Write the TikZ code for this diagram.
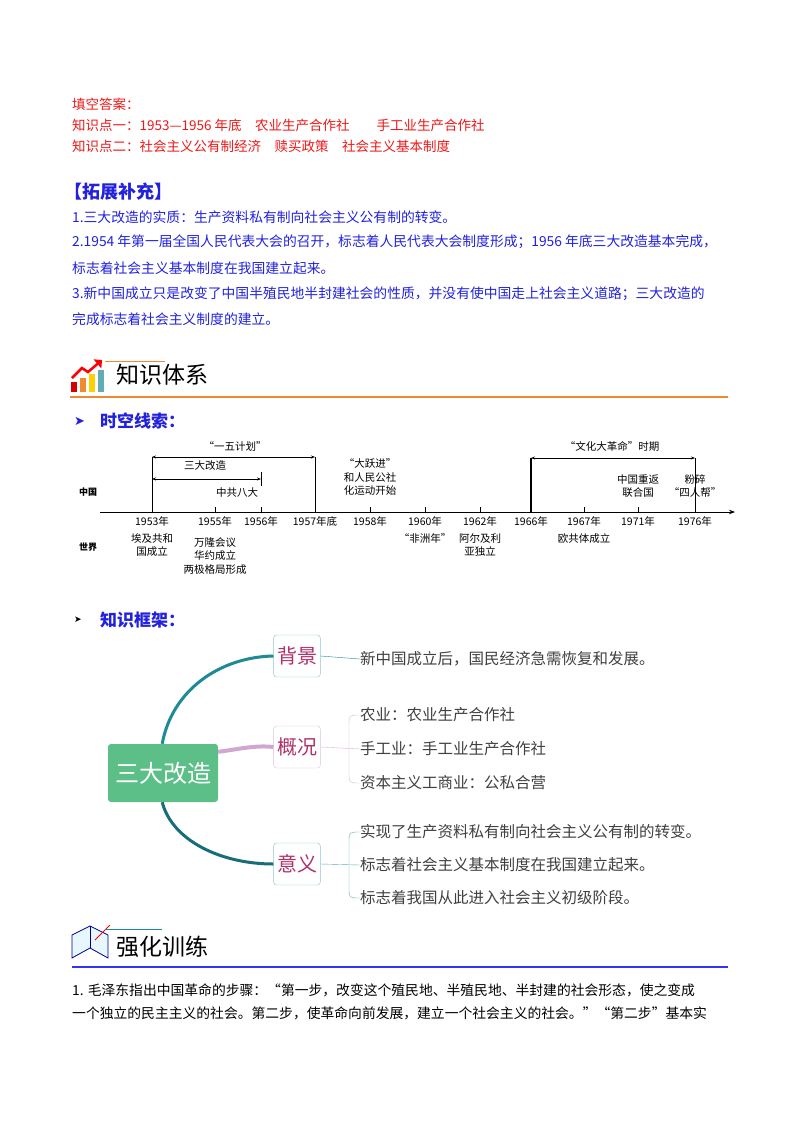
\documentclass[tikz,border=0pt]{standalone}
\usepackage{fontspec}
\setmainfont{Noto Sans CJK SC}
\newfontfamily\djv{DejaVu Sans}
\usetikzlibrary{arrows.meta}
\definecolor{red1}{HTML}{F01818}
\definecolor{blue1}{HTML}{2222DD}
\definecolor{teal1}{HTML}{1E8A96}
\definecolor{green1}{HTML}{5CBF87}
\definecolor{maroon1}{HTML}{B0306A}
\definecolor{orange1}{HTML}{F08A30}
\definecolor{gray1}{HTML}{404040}
\tikzset{
 rt/.style={anchor=west,inner sep=0,text=red1,font=\fontsize{13.5}{15}\selectfont},
 bt/.style={anchor=west,inner sep=0,text=blue1,font=\fontsize{13.8}{15}\selectfont},
 tl/.style={inner sep=0,font=\fontsize{10.5}{13.5}\selectfont,align=center},
 mt/.style={anchor=west,inner sep=0,text=gray1,font=\fontsize{15.5}{17}\selectfont},
 sub/.style={draw=#1,rounded corners=3pt,minimum width=43pt,minimum height=42pt,text=maroon1,font=\fontsize{20}{22}\selectfont,fill=white},
 arr/.style={{Stealth[length=4pt]}-{Stealth[length=4pt]},line width=0.7pt}
}
\begin{document}
\begin{tikzpicture}[x=1pt,y=-1pt]
\useasboundingbox (0,0) rectangle (800,1132);
\fill[white] (0,0) rectangle (800,1132);
% top answers
\node[rt] (a1) at (72,104) {填空答案：};
\node[rt] (a2) at (72,125) {知识点一：1953—1956 年底\quad 农业生产合作社\qquad 手工业生产合作社};
\node[rt] (a3) at (72,146) {知识点二：社会主义公有制经济\quad 赎买政策\quad 社会主义基本制度};
\node[bt,font=\bfseries\fontsize{18}{20}\selectfont] (h1) at (64,192) {【拓展补充】};
\node[bt] (b1) at (72,217) {1.三大改造的实质：生产资料私有制向社会主义公有制的转变。};
\node[bt] (b2) at (72,242) {2.1954 年第一届全国人民代表大会的召开，标志着人民代表大会制度形成；1956 年底三大改造基本完成，};
\node[bt] (b3) at (72,268) {标志着社会主义基本制度在我国建立起来。};
\node[bt] (b4) at (72,294) {3.新中国成立只是改变了中国半殖民地半封建社会的性质，并没有使中国走上社会主义道路；三大改造的};
\node[bt] (b5) at (72,319) {完成标志着社会主义制度的建立。};
% section header 知识体系
\fill[red!85!black] (71,382) rectangle (77,392);
\fill[orange1] (80,378) rectangle (86,392);
\fill[yellow!70!orange] (89,374) rectangle (95,392);
\fill[teal1!70] (98,370) rectangle (104,392);
\draw[red,line width=2.5pt,-{Triangle[length=6pt]}] (72,378) -- (82,368) -- (88,372) -- (102,360);
\draw[orange1,line width=0.8pt] (105,361) -- (165,361);
\node[anchor=west,inner sep=0,font=\fontsize{23}{25}\selectfont] (h2) at (116,375) {知识体系};
\draw[orange1,line width=1.2pt] (70,397) -- (728,397);
\node[anchor=west,inner sep=0,text=blue1,font=\djv\fontsize{13}{15}\selectfont] (ar1) at (74,421) {➤};
\node[anchor=west,inner sep=0,text=blue1,font=\bfseries\fontsize{17}{19}\selectfont] (h3) at (100,421) {时空线索：};
% timeline
\coordinate (ax0) at (100,512);
\coordinate (ax1) at (735,512);
\draw[line width=0.8pt,-{Stealth[length=6pt]}] (ax0) -- (ax1);
\foreach \x/\t in {152/1953年,215/1955年,261/1956年,315/1957年底,370/1958年,425/1960年,480/1962年,531/1966年,584/1967年,638/1971年,695/1976年}{
 \draw (\x,512) -- (\x,507);
 \node[tl,anchor=north] at (\x,516) {\t};
}
\node[tl,font=\bfseries\fontsize{9}{10}\selectfont] (cn) at (88,492) {中国};
\node[tl,font=\bfseries\fontsize{9}{10}\selectfont] (wd) at (88,547) {世界};
\coordinate (p1) at (152,457); \coordinate (p2) at (315,457);
\coordinate (p3) at (531,458); \coordinate (p4) at (695,458);
\draw (152,512) -- (p1);
\draw (315,512) -- (p2);
\draw[line width=1.2pt] (531,512) -- (p3);
\draw (695,512) -- (p4);
\draw (261,472) -- (261,486);
\draw[arr] (p1) -- (p2);
\node[tl] (l1) at (235,446) {“一五计划”};
\draw[arr] (152,479) -- (261,479);
\node[tl] (l2) at (205,466) {三大改造};
\node[tl] (l3) at (237,493) {中共八大};
\node[tl] (l4) at (370,477) {“大跃进”\\和人民公社\\化运动开始};
\draw[arr] (p3) -- (p4);
\node[tl] (l5) at (612,446) {“文化大革命”时期};
\node[tl] (l6) at (638,486) {中国重返\\联合国};
\node[tl] (l7) at (695,486) {粉碎\\“四人帮”};
\node[tl,anchor=north] (w1) at (152,533) {埃及共和\\国成立};
\node[tl,anchor=north] (w2) at (215,537) {万隆会议\\华约成立\\两极格局形成};
\node[tl,anchor=north] (w3) at (425,533) {“非洲年”};
\node[tl,anchor=north] (w4) at (480,533) {阿尔及利\\亚独立};
\node[tl,anchor=north] (w5) at (584,533) {欧共体成立};
% mind map
\node[anchor=west,inner sep=0,font=\djv\fontsize{9}{10}\selectfont] (ar2) at (74,620) {➤};
\node[anchor=west,inner sep=0,text=blue1,font=\bfseries\fontsize{17}{19}\selectfont] (h4) at (100,620) {知识框架：};
\node[fill=green1,rounded corners=3pt,minimum width=110pt,minimum height=58pt,text=white,font=\fontsize{24}{26}\selectfont] (c) at (163,773) {三大改造};
\node[sub=teal1!50] (s1) at (297,656) {背景};
\node[sub=violet!25] (s2) at (297,747) {概况};
\node[sub=teal1!50] (s3) at (297,864) {意义};
\draw[teal1,line width=3pt] ([xshift=-56pt]c.north east) .. controls (172,690) and (220,657) .. (s1.west);
\draw[violet!35,line width=4pt] ([yshift=-8pt]c.north east) .. controls (240,749) and (255,745) .. (s2.west);
\draw[teal1!80!black,line width=3pt] ([xshift=-56pt]c.south east) .. controls (172,840) and (220,864) .. (s3.west);
\node[mt] (t1) at (360,659) {新中国成立后，国民经济急需恢复和发展。};
\draw[teal1] (s1.east) -- (t1.west);
\node[mt] (t2) at (360,715) {农业：农业生产合作社};
\node[mt] (t3) at (360,749) {手工业：手工业生产合作社};
\node[mt] (t4) at (360,783) {资本主义工商业：公私合营};
\draw[violet!30] (s2.east) -- (t3.west);
\draw[violet!30] (t2.west) .. controls (349,715) .. (349,725) -- (349,773) .. controls (349,783) .. (t4.west);
\node[mt] (t5) at (360,832) {实现了生产资料私有制向社会主义公有制的转变。};
\node[mt] (t6) at (360,865) {标志着社会主义基本制度在我国建立起来。};
\node[mt] (t7) at (360,898) {标志着我国从此进入社会主义初级阶段。};
\draw[teal1!70] (s3.east) -- (t6.west);
\draw[teal1!70] (t5.west) .. controls (349,832) .. (349,842) -- (349,888) .. controls (349,898) .. (t7.west);
% 强化训练
\draw[blue!60!black,fill=cyan!10,line width=0.8pt] (72,958) -- (90,948) -- (108,958) -- (108,935) -- (90,926) -- (72,935) -- cycle;
\draw[blue!60!black] (90,948) -- (90,926);
\draw[red,line width=0.8pt] (95,940) -- (110,925);
\draw[teal1,line width=0.8pt] (105,929) -- (162,929);
\node[anchor=west,inner sep=0,font=\fontsize{23}{25}\selectfont] (h5) at (116,947) {强化训练};
\draw[blue!80,line width=1.2pt] (72,967) -- (728,967);
\node[anchor=west,inner sep=0,font=\fontsize{13.8}{15}\selectfont] (q1) at (72,990) {1. 毛泽东指出中国革命的步骤：“第一步，改变这个殖民地、半殖民地、半封建的社会形态，使之变成};
\node[anchor=west,inner sep=0,font=\fontsize{13.8}{15}\selectfont] (q2) at (72,1013) {一个独立的民主主义的社会。第二步，使革命向前发展，建立一个社会主义的社会。”“第二步”基本实};
\end{tikzpicture}
\end{document}
